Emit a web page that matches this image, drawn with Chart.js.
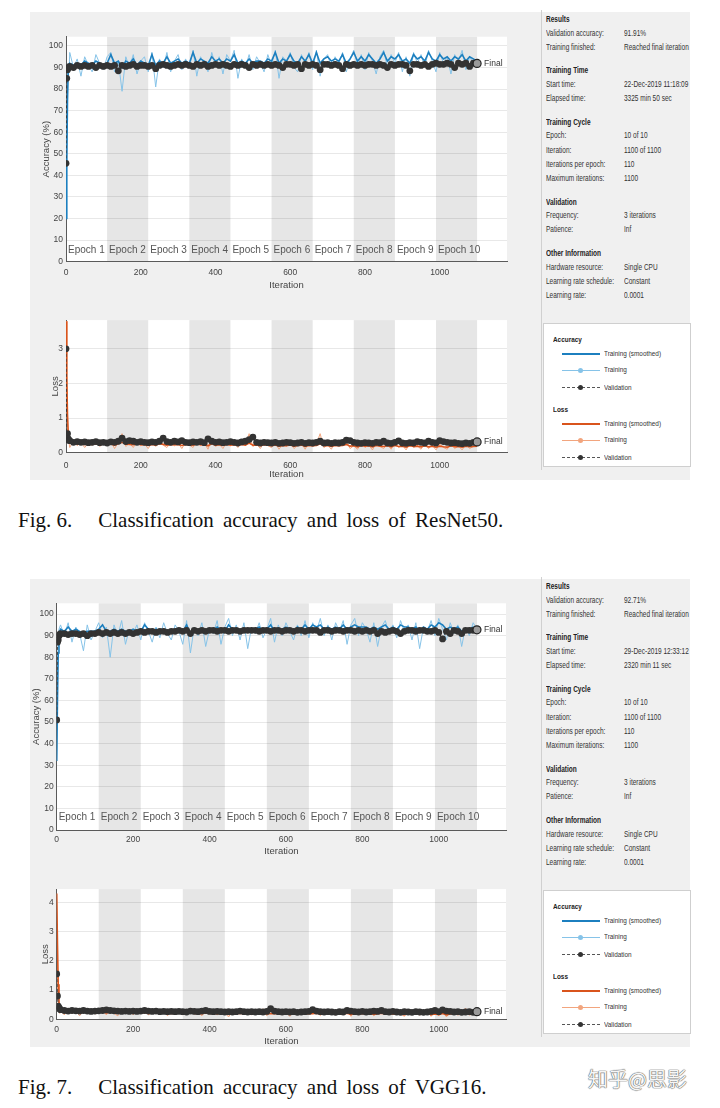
<!DOCTYPE html>
<html>
<head>
<meta charset="utf-8">
<script src="https://cdn.jsdelivr.net/npm/chart.js@4.4.1/dist/chart.umd.min.js"></script>
<style>
  body { margin: 0; width: 720px; height: 1108px; background: #fff; position: relative; overflow: hidden;
         font-family: "Liberation Sans", Arial, sans-serif; }
  .panel { position: absolute; background: #f0f0f0; }
  .side { position: absolute; border-left: 1px solid #d0d0d0; }
  canvas { position: absolute; }
  .row { position: absolute; left: 0; white-space: nowrap; font-size: 8.8px; color: #333;
         transform-origin: 0 50%; transform: scaleX(0.74); height: 12px; line-height: 12px; }
  .row.head { font-weight: bold; color: #222; }
  .legend { position: absolute; background: #fff; border: 1px solid #cfcfcf; }
  .legend .lbl { position: absolute; white-space: nowrap; font-size: 8px; color: #333; height: 10px; line-height: 10px;
                 transform-origin: 0 50%; transform: scaleX(0.8); }
  .legend .lbl.head { font-weight: bold; color: #222; }
  .legend .ln { position: absolute; height: 0; }
  .legend .dot { position: absolute; width: 5px; height: 5px; border-radius: 50%; }
  .caption { position: absolute; left: 18px; font-family: "Liberation Serif", "Times New Roman", serif;
             font-size: 21px; color: #111; white-space: nowrap; line-height: 24px; }
  .caption span { margin-left: 26px; word-spacing: 4px; }
  .mark { position: absolute; left: 588px; top: 1064px; font-family: "Noto Sans CJK SC", sans-serif; font-size: 20px;
          color: #f6f6f6; text-shadow: 0 0 1px #666, 0 0 1px #666, 0 0 1px #666; }
</style>
</head>
<body>

<div class="panel" style="left:30px; top:12px; width:660px; height:468px;"></div>
<div class="panel" style="left:30px; top:579px; width:660px; height:468px;"></div>

<canvas id="accA" width="490" height="280" style="left:30px; top:14px; width:490px; height:280px;"></canvas>
<canvas id="lossA" width="490" height="170" style="left:30px; top:312px; width:490px; height:170px;"></canvas>
<canvas id="accB" width="495" height="285" style="left:25px; top:580px; width:495px; height:285px;"></canvas>
<canvas id="lossB" width="495" height="166" style="left:25px; top:881px; width:495px; height:166px;"></canvas>

<div class="caption" style="top:508px;">Fig. 6.<span>Classification accuracy and loss of ResNet50.</span></div>
<div class="caption" style="top:1075px;">Fig. 7.<span>Classification accuracy and loss of VGG16.</span></div>
<div class="mark">知乎@思影</div>

<script>
const ITERS = [0, 2, 4, 6, 8,
  10, 20, 30, 40, 50, 60, 70, 80, 90, 100,
  110, 120, 130, 140, 150, 160, 170, 180, 190, 200,
  210, 220, 230, 240, 250, 260, 270, 280, 290, 300,
  310, 320, 330, 340, 350, 360, 370, 380, 390, 400,
  410, 420, 430, 440, 450, 460, 470, 480, 490, 500,
  510, 520, 530, 540, 550, 560, 570, 580, 590, 600,
  610, 620, 630, 640, 650, 660, 670, 680, 690, 700,
  710, 720, 730, 740, 750, 760, 770, 780, 790, 800,
  810, 820, 830, 840, 850, 860, 870, 880, 890, 900,
  910, 920, 930, 940, 950, 960, 970, 980, 990, 1000,
  1010, 1020, 1030, 1040, 1050, 1060, 1070, 1080, 1090, 1100];

const EPOCH_EDGES = [0, 110, 220, 330, 440, 550, 660, 770, 880, 990, 1100];
const EPOCH_LABELS = ['Epoch 1', 'Epoch 2', 'Epoch 3', 'Epoch 4', 'Epoch 5',
  'Epoch 6', 'Epoch 7', 'Epoch 8', 'Epoch 9', 'Epoch 10'];
const X_TICKS = [0, 200, 400, 600, 800, 1000];
const ACC_TICKS = [0, 10, 20, 30, 40, 50, 60, 70, 80, 90, 100];
const LOSS_TICKS_A = [0, 1, 2, 3];
const LOSS_TICKS_B = [0, 1, 2, 3, 4];

// ResNet50
const RES_ACC_TRAIN = [20, 55, 84, 92, 88,
  97, 90, 94, 86, 95, 91, 88, 96, 92, 89,
  95, 97, 88, 93, 79, 95, 90, 96, 87, 93,
  95, 88, 97, 81, 94, 90, 97, 88, 93, 96,
  89, 94, 90, 98, 86, 95, 92, 88, 97, 91,
  95, 87, 96, 93, 98, 85, 94, 90, 96, 89,
  95, 92, 88, 96, 91, 98, 85, 95, 93, 97,
  90, 88, 96, 92, 97, 89, 98, 86, 94, 96,
  90, 95, 92, 97, 88, 94, 98, 91, 96, 89,
  97, 93, 87, 95, 98, 90, 96, 92, 97, 88,
  95, 86, 97, 92, 96, 90, 98, 93, 88, 97,
  92, 95, 87, 96, 93, 98, 89, 95, 92, 94];
const RES_ACC_SMOOTH = [20, 45, 75, 88, 90,
  92, 91, 92, 91, 93, 92, 91, 93, 92, 91,
  92, 96, 92, 93, 90, 93, 92, 94, 91, 93,
  92, 91, 96, 91, 93, 92, 95, 92, 93, 94,
  92, 93, 92, 97, 92, 94, 93, 92, 95, 93,
  94, 92, 94, 93, 96, 92, 93, 92, 94, 92,
  93, 93, 92, 94, 93, 97, 92, 94, 93, 96,
  93, 92, 95, 93, 96, 92, 97, 92, 94, 95,
  93, 94, 93, 96, 92, 94, 97, 93, 95, 93,
  96, 94, 92, 94, 97, 93, 95, 94, 96, 93,
  94, 92, 96, 94, 95, 93, 97, 94, 93, 96,
  94, 95, 93, 95, 94, 96, 93, 95, 94, 93];
const RES_ACC_VAL = [45.6, 85, 89, 90, 90,
  90.5, 90, 91, 90.5, 91, 90.5, 91, 90, 91, 90.5,
  91, 90.5, 91, 88.5, 91, 90.5, 91, 91.5, 90.5, 91,
  91, 90.5, 91, 89.5, 91, 91.5, 91, 90.5, 91, 91.5,
  91, 91.5, 91, 90.5, 91.5, 91, 91.5, 90.5, 91, 91.5,
  91, 91.5, 91, 90.5, 91.5, 91, 91.5, 91, 90, 91.5,
  91, 91.5, 91, 91.5, 91, 91.5, 91, 90, 91.5, 91.5,
  91, 91.5, 89.5, 91.5, 91, 91.5, 91, 89, 91.5, 91.5,
  91, 91.5, 91, 89.5, 91.5, 91, 91.5, 91, 91.5, 91,
  91.5, 91.5, 91, 91.5, 91, 90, 91.5, 91, 91.5, 91.5,
  91, 88.5, 91.5, 91.5, 91, 91.5, 90.5, 91.5, 92, 91.5,
  91.5, 92, 91.5, 90, 92, 91.5, 92, 90.5, 92, 91.91];
const RES_LOSS_TRAIN = [3.8, 1.5, 0.7, 0.45, 0.3,
  0.15, 0.35, 0.2, 0.3, 0.15, 0.28, 0.22, 0.35, 0.18, 0.26,
  0.2, 0.32, 0.12, 0.3, 0.55, 0.18, 0.27, 0.15, 0.33, 0.2,
  0.25, 0.12, 0.3, 0.18, 0.4, 0.22, 0.15, 0.3, 0.2, 0.28,
  0.12, 0.3, 0.22, 0.15, 0.35, 0.2, 0.28, 0.1, 0.4, 0.18,
  0.25, 0.12, 0.3, 0.2, 0.28, 0.15, 0.32, 0.2, 0.55, 0.18,
  0.25, 0.12, 0.3, 0.2, 0.15, 0.28, 0.1, 0.25, 0.18, 0.3,
  0.12, 0.22, 0.28, 0.1, 0.3, 0.18, 0.25, 0.55, 0.15, 0.22,
  0.1, 0.3, 0.18, 0.25, 0.35, 0.12, 0.2, 0.1, 0.28, 0.15,
  0.22, 0.08, 0.3, 0.18, 0.12, 0.25, 0.1, 0.3, 0.15, 0.22,
  0.08, 0.28, 0.15, 0.2, 0.1, 0.3, 0.12, 0.22, 0.08, 0.25,
  0.15, 0.1, 0.28, 0.12, 0.2, 0.08, 0.25, 0.12, 0.18, 0.2];
const RES_LOSS_SMOOTH = [3.8, 2.2, 1.1, 0.6, 0.4,
  0.28, 0.26, 0.25, 0.26, 0.24, 0.25, 0.24, 0.26, 0.24, 0.25,
  0.24, 0.25, 0.22, 0.26, 0.3, 0.25, 0.24, 0.23, 0.25, 0.23,
  0.24, 0.21, 0.24, 0.22, 0.26, 0.24, 0.22, 0.24, 0.23, 0.24,
  0.21, 0.24, 0.23, 0.22, 0.25, 0.23, 0.24, 0.2, 0.26, 0.22,
  0.23, 0.21, 0.24, 0.22, 0.23, 0.21, 0.24, 0.22, 0.28, 0.22,
  0.22, 0.2, 0.23, 0.22, 0.2, 0.22, 0.19, 0.21, 0.2, 0.22,
  0.19, 0.21, 0.22, 0.18, 0.21, 0.2, 0.21, 0.26, 0.2, 0.21,
  0.18, 0.21, 0.2, 0.21, 0.24, 0.19, 0.2, 0.17, 0.21, 0.19,
  0.2, 0.17, 0.21, 0.19, 0.18, 0.2, 0.17, 0.21, 0.18, 0.19,
  0.16, 0.2, 0.18, 0.19, 0.17, 0.2, 0.17, 0.19, 0.16, 0.19,
  0.17, 0.16, 0.2, 0.17, 0.18, 0.16, 0.19, 0.17, 0.18, 0.19];
const RES_LOSS_VAL = [3.0, 0.45, 0.55, 0.4, 0.35,
  0.35, 0.3, 0.32, 0.3, 0.31, 0.29, 0.3, 0.32, 0.29, 0.3,
  0.28, 0.31, 0.3, 0.33, 0.42, 0.32, 0.35, 0.33, 0.3, 0.32,
  0.3, 0.29, 0.31, 0.3, 0.33, 0.42, 0.32, 0.3, 0.33, 0.31,
  0.35, 0.3, 0.29, 0.31, 0.3, 0.32, 0.29, 0.4, 0.33, 0.3,
  0.31, 0.29, 0.3, 0.32, 0.3, 0.28, 0.31, 0.33, 0.38, 0.45,
  0.3, 0.28, 0.3, 0.29, 0.28, 0.3, 0.27, 0.28, 0.3, 0.29,
  0.27, 0.28, 0.3, 0.27, 0.29, 0.28, 0.3, 0.33, 0.28, 0.29,
  0.27, 0.29, 0.28, 0.3, 0.36, 0.35, 0.3, 0.28, 0.27, 0.29,
  0.28, 0.27, 0.3, 0.29, 0.33, 0.28, 0.27, 0.3, 0.34, 0.28,
  0.27, 0.29, 0.28, 0.32, 0.3, 0.28, 0.33, 0.3, 0.28, 0.35,
  0.32, 0.3, 0.28, 0.29, 0.27, 0.26, 0.28, 0.27, 0.3, 0.31];

// VGG16
const VGG_ACC_TRAIN = [32, 70, 90, 93, 94,
  95, 90, 96, 87, 94, 91, 83, 95, 88, 92,
  96, 89, 94, 80, 95, 90, 97, 86, 93, 91,
  95, 88, 96, 92, 87, 94, 89, 96, 91, 88,
  95, 92, 86, 97, 82, 94, 90, 96, 85, 93,
  91, 97, 86, 94, 98, 90, 95, 88, 96, 84,
  94, 91, 96, 89, 93, 98, 87, 95, 90, 96,
  92, 88, 95, 90, 97, 89, 96, 92, 98, 90,
  95, 88, 96, 92, 97, 86, 95, 98, 90, 96,
  93, 87, 96, 85, 94, 97, 91, 95, 89, 97,
  92, 95, 88, 96, 84, 94, 92, 97, 90, 98,
  93, 88, 96, 91, 95, 85, 94, 90, 96, 93];
const VGG_ACC_SMOOTH = [32, 60, 82, 90, 92,
  93, 92, 94, 92, 93, 92, 91, 92, 92, 92,
  93, 95, 92, 92, 93, 92, 93, 92, 92, 93,
  92, 92, 95, 93, 92, 93, 92, 93, 92, 92,
  93, 93, 92, 95, 91, 93, 92, 93, 92, 93,
  92, 94, 92, 92, 95, 93, 93, 92, 93, 92,
  93, 93, 94, 92, 93, 95, 92, 93, 93, 94,
  93, 92, 94, 93, 95, 93, 95, 94, 95, 93,
  94, 93, 94, 93, 95, 93, 94, 95, 94, 94,
  94, 93, 94, 93, 94, 95, 93, 94, 93, 95,
  94, 94, 93, 94, 92, 94, 93, 95, 94, 96,
  95, 93, 94, 93, 94, 92, 93, 93, 94, 93];
const VGG_ACC_VAL = [51, 87, 88, 90, 90.5,
  91, 91, 90.5, 91, 91, 90.5, 91, 90, 91, 91,
  91.5, 91, 91.5, 91, 91.5, 91, 91.5, 91, 91.5, 91,
  91.5, 92, 91.5, 92, 92, 91.5, 92, 92, 91.5, 92,
  92, 92.5, 92, 92.5, 91, 92.5, 92, 92.5, 92, 92.5,
  92.5, 92, 92.5, 92.5, 92, 92.5, 92.5, 92, 92.5, 92.5,
  92.5, 92.5, 92, 92.5, 92.5, 92, 92.5, 92.5, 92, 92.5,
  92.5, 92, 92.5, 92.5, 92, 92.5, 92.5, 92.5, 91.5, 92.5,
  92.5, 92, 92.5, 92.5, 92, 92.5, 92.5, 92, 92.5, 92,
  92.5, 92, 92.5, 91, 92, 91.5, 92, 92.5, 92, 91,
  92, 92.5, 92.5, 92, 92.5, 92.5, 92, 92, 92.5, 91.5,
  88.5, 92, 91, 92.5, 92, 91, 92.5, 92.5, 92.5, 92.71];
const VGG_LOSS_TRAIN = [4.3, 1.8, 0.6, 0.35, 0.2,
  0.3, 0.15, 0.35, 0.2, 0.28, 0.12, 0.3, 0.22, 0.35, 0.18,
  0.25, 0.32, 0.15, 0.38, 0.2, 0.12, 0.3, 0.22, 0.36, 0.15,
  0.28, 0.2, 0.33, 0.15, 0.25, 0.35, 0.18, 0.3, 0.12, 0.26,
  0.2, 0.33, 0.15, 0.28, 0.38, 0.18, 0.25, 0.12, 0.35, 0.2,
  0.28, 0.15, 0.32, 0.22, 0.08, 0.3, 0.18, 0.35, 0.2, 0.27,
  0.15, 0.32, 0.2, 0.36, 0.12, 0.28, 0.2, 0.33, 0.15, 0.25,
  0.1, 0.3, 0.2, 0.35, 0.15, 0.27, 0.2, 0.33, 0.12, 0.25,
  0.2, 0.3, 0.15, 0.28, 0.18, 0.35, 0.1, 0.27, 0.15, 0.3,
  0.2, 0.33, 0.12, 0.25, 0.35, 0.18, 0.28, 0.15, 0.3, 0.2,
  0.1, 0.28, 0.2, 0.33, 0.15, 0.25, 0.3, 0.1, 0.28, 0.12,
  0.35, 0.08, 0.25, 0.3, 0.15, 0.22, 0.38, 0.15, 0.25, 0.2];
const VGG_LOSS_SMOOTH = [4.3, 2.6, 1.2, 0.6, 0.35,
  0.28, 0.25, 0.26, 0.24, 0.25, 0.23, 0.24, 0.24, 0.25, 0.23,
  0.23, 0.25, 0.22, 0.25, 0.23, 0.21, 0.23, 0.22, 0.24, 0.21,
  0.22, 0.21, 0.23, 0.2, 0.22, 0.23, 0.21, 0.22, 0.19, 0.21,
  0.2, 0.22, 0.2, 0.21, 0.23, 0.2, 0.21, 0.19, 0.22, 0.2,
  0.21, 0.19, 0.21, 0.2, 0.17, 0.2, 0.19, 0.21, 0.2, 0.2,
  0.19, 0.21, 0.19, 0.22, 0.18, 0.2, 0.19, 0.21, 0.18, 0.2,
  0.17, 0.2, 0.19, 0.21, 0.18, 0.2, 0.19, 0.21, 0.18, 0.19,
  0.19, 0.2, 0.18, 0.2, 0.18, 0.21, 0.17, 0.19, 0.18, 0.2,
  0.19, 0.2, 0.17, 0.19, 0.21, 0.18, 0.2, 0.18, 0.19, 0.18,
  0.16, 0.19, 0.18, 0.2, 0.17, 0.19, 0.2, 0.16, 0.18, 0.16,
  0.2, 0.15, 0.18, 0.19, 0.17, 0.18, 0.21, 0.17, 0.18, 0.18];
const VGG_LOSS_VAL = [1.55, 0.8, 0.45, 0.4, 0.35,
  0.33, 0.3, 0.28, 0.3, 0.29, 0.28, 0.3, 0.28, 0.27, 0.28,
  0.29, 0.3, 0.32, 0.3, 0.29, 0.28, 0.27, 0.28, 0.27, 0.28,
  0.27, 0.28, 0.3, 0.28, 0.27, 0.28, 0.26, 0.27, 0.26, 0.27,
  0.26, 0.27, 0.26, 0.25, 0.28, 0.27, 0.26, 0.28, 0.3, 0.27,
  0.26, 0.27, 0.26, 0.25, 0.26, 0.25, 0.26, 0.28, 0.26, 0.25,
  0.26, 0.25, 0.26, 0.25, 0.27, 0.36, 0.28, 0.26, 0.25, 0.26,
  0.25, 0.26, 0.24, 0.25, 0.26, 0.27, 0.33, 0.28, 0.26, 0.25,
  0.26, 0.25, 0.24, 0.26, 0.25, 0.3, 0.28, 0.26, 0.25, 0.27,
  0.25, 0.26, 0.28, 0.27, 0.3, 0.26, 0.25, 0.27, 0.25, 0.24,
  0.26, 0.25, 0.24, 0.26, 0.25, 0.24, 0.25, 0.27, 0.3, 0.26,
  0.32, 0.28, 0.27, 0.25, 0.26, 0.24, 0.25, 0.26, 0.24, 0.26];

// side panel text
const RES_INFO = [
  ['Results', [['Validation accuracy:', '91.91%'], ['Training finished:', 'Reached final iteration']]],
  ['Training Time', [['Start time:', '22-Dec-2019 11:18:09'], ['Elapsed time:', '3325 min 50 sec']]],
  ['Training Cycle', [['Epoch:', '10 of 10'], ['Iteration:', '1100 of 1100'], ['Iterations per epoch:', '110'], ['Maximum iterations:', '1100']]],
  ['Validation', [['Frequency:', '3 iterations'], ['Patience:', 'Inf']]],
  ['Other Information', [['Hardware resource:', 'Single CPU'], ['Learning rate schedule:', 'Constant'], ['Learning rate:', '0.0001']]],
];
const VGG_INFO = [
  ['Results', [['Validation accuracy:', '92.71%'], ['Training finished:', 'Reached final iteration']]],
  ['Training Time', [['Start time:', '29-Dec-2019 12:33:12'], ['Elapsed time:', '2320 min 11 sec']]],
  ['Training Cycle', [['Epoch:', '10 of 10'], ['Iteration:', '1100 of 1100'], ['Iterations per epoch:', '110'], ['Maximum iterations:', '1100']]],
  ['Validation', [['Frequency:', '3 iterations'], ['Patience:', 'Inf']]],
  ['Other Information', [['Hardware resource:', 'Single CPU'], ['Learning rate schedule:', 'Constant'], ['Learning rate:', '0.0001']]],
];

const C_ACC_SMOOTH = '#1c7fbf';
const C_ACC_TRAIN = '#86c3e8';
const C_LOSS_SMOOTH = '#d9541c';
const C_LOSS_TRAIN = '#f2a57e';

Chart.defaults.font.family = '"Liberation Sans", Arial, sans-serif';

// white plot area, grey bands on even epochs, epoch names along the bottom
const epochPlugin = {
  id: 'epochs',
  beforeDraw(chart, args, opts) {
    const { ctx, chartArea: a, scales: { x } } = chart;
    ctx.save();
    ctx.fillStyle = '#ffffff';
    ctx.fillRect(a.left, a.top, a.right - a.left, a.bottom - a.top);
    ctx.fillStyle = '#e6e6e6';
    for (let i = 1; i < EPOCH_EDGES.length - 1; i += 2) {
      const x0 = x.getPixelForValue(EPOCH_EDGES[i]);
      const x1 = x.getPixelForValue(EPOCH_EDGES[i + 1]);
      ctx.fillRect(x0, a.top, x1 - x0, a.bottom - a.top);
    }
    if (opts.labels) {
      ctx.fillStyle = '#555';
      ctx.font = '10px "Liberation Sans", Arial, sans-serif';
      ctx.textBaseline = 'middle';
      EPOCH_LABELS.forEach((t, i) => {
        ctx.fillText(t, x.getPixelForValue(EPOCH_EDGES[i]) + 2, a.bottom - opts.labelOffset);
      });
    }
    ctx.restore();
  },
  afterDatasetsDraw(chart) {
    const el = chart.getDatasetMeta(0).data[0];
    if (!el) return;
    const { ctx } = chart;
    ctx.save();
    ctx.fillStyle = '#333';
    ctx.font = '8.5px "Liberation Sans", Arial, sans-serif';
    ctx.textBaseline = 'middle';
    ctx.fillText('Final', el.x + 7, el.y);
    ctx.restore();
  }
};

function makePlot(id, o) {
  const pts = arr => ITERS.map((x, i) => ({ x, y: arr[i] }));
  const last = ITERS.length - 1;
  return new Chart(document.getElementById(id), {
    type: 'line',
    data: {
      datasets: [
        { label: 'Final', data: [{ x: ITERS[last], y: o.val[last] }], showLine: false, order: 0,
          pointRadius: 4, pointBackgroundColor: '#9a9a9a', pointBorderColor: '#222', pointBorderWidth: 1.2 },
        { label: 'Validation', data: pts(o.val), order: 1, borderColor: '#3a3a3a', borderWidth: 1,
          borderDash: [3, 2], pointRadius: 3.4, pointBackgroundColor: '#333', pointBorderWidth: 0 },
        { label: 'Training (smoothed)', data: pts(o.smooth), order: 2, borderColor: o.cSmooth,
          borderWidth: 1.6, pointRadius: 0 },
        { label: 'Training', data: pts(o.train), order: 3, borderColor: o.cTrain,
          borderWidth: 1, pointRadius: 0 },
      ]
    },
    options: {
      responsive: false,
      animation: false,
      events: [],
      layout: { padding: { left: 0, right: o.padR, top: o.padT, bottom: 0 } },
      plugins: {
        legend: { display: false },
        tooltip: { enabled: false },
        epochs: { labels: o.epochLabels, labelOffset: o.labelOffset },
      },
      scales: {
        x: {
          type: 'linear', min: 0, max: o.xMax,
          afterBuildTicks: s => { s.ticks = X_TICKS.map(v => ({ value: v })); },
          afterFit: s => { s.height = o.xH; },
          grid: { display: false, drawTicks: false },
          border: { color: '#5a5a5a', width: 1 },
          ticks: { padding: o.xTickPad, color: '#444', font: { size: 8.5 }, maxRotation: 0, callback: v => String(v) },
          title: { display: true, text: 'Iteration', color: '#444', font: { size: 9.5 },
                   padding: { top: 0, bottom: o.xTitlePad } },
        },
        y: {
          min: 0, max: o.yMax,
          afterBuildTicks: s => { s.ticks = o.yTicks.map(v => ({ value: v })); },
          afterFit: s => { s.width = o.yW; },
          grid: { color: 'rgba(0,0,0,0.09)', drawTicks: false },
          border: { color: '#5a5a5a', width: 1 },
          ticks: { padding: 3, color: '#444', font: { size: 8.5 }, callback: v => String(v) },
          title: { display: true, text: o.yTitle, color: '#444', font: { size: 9.5 },
                   padding: { top: o.yTitlePad, bottom: 0 } },
        }
      }
    },
    plugins: [epochPlugin]
  });
}

makePlot('accA', { train: RES_ACC_TRAIN, smooth: RES_ACC_SMOOTH, val: RES_ACC_VAL,
  cSmooth: C_ACC_SMOOTH, cTrain: C_ACC_TRAIN, yTicks: ACC_TICKS, yMax: 104.3, xMax: 1180,
  yTitle: 'Accuracy (%)', padR: 13, padT: 22.7, xH: 32.3, yW: 36, xTickPad: 6, xTitlePad: 3.3, yTitlePad: 10.3,
  epochLabels: true, labelOffset: 11 });
makePlot('lossA', { train: RES_LOSS_TRAIN, smooth: RES_LOSS_SMOOTH, val: RES_LOSS_VAL,
  cSmooth: C_LOSS_SMOOTH, cTrain: C_LOSS_TRAIN, yTicks: LOSS_TICKS_A, yMax: 3.83, xMax: 1180,
  yTitle: 'Loss', padR: 13, padT: 4.7, xH: 29.3, yW: 36, xTickPad: 8, xTitlePad: 2.3, yTitlePad: 19.3,
  epochLabels: false, labelOffset: 0 });
makePlot('accB', { train: VGG_ACC_TRAIN, smooth: VGG_ACC_SMOOTH, val: VGG_ACC_VAL,
  cSmooth: C_ACC_SMOOTH, cTrain: C_ACC_TRAIN, yTicks: ACC_TICKS, yMax: 105, xMax: 1176,
  yTitle: 'Accuracy (%)', padR: 14, padT: 23.3, xH: 35, yW: 31.7, xTickPad: 5, xTitlePad: 7.6, yTitlePad: 6,
  epochLabels: true, labelOffset: 12.3 });
makePlot('lossB', { train: VGG_LOSS_TRAIN, smooth: VGG_LOSS_SMOOTH, val: VGG_LOSS_VAL,
  cSmooth: C_LOSS_SMOOTH, cTrain: C_LOSS_TRAIN, yTicks: LOSS_TICKS_B, yMax: 4.45, xMax: 1176,
  yTitle: 'Loss', padR: 14, padT: 4, xH: 27.7, yW: 31.7, xTickPad: 5, xTitlePad: 0.3, yTitlePad: 14.3,
  epochLabels: false, labelOffset: 0 });

// side panel: info text and legend
function el(cls, css, text) {
  const d = document.createElement('div');
  d.className = cls;
  Object.assign(d.style, css);
  if (text !== undefined) d.textContent = text;
  document.body.appendChild(d);
  return d;
}

function sidePanel(top, info) {
  el('side', { left: '541px', top: (top - 2) + 'px', width: '0px', height: '460px' });
  let y = top + 1;
  info.forEach(([head, rows], s) => {
    if (s > 0) y += 9.5;
    el('row head', { left: '546px', top: y + 'px' }, head);
    y += 13.5;
    rows.forEach(([k, v]) => {
      el('row', { left: '546px', top: y + 'px' }, k);
      el('row', { left: '624px', top: y + 'px' }, v);
      y += 14.2;
    });
  });

  const box = el('legend', { left: '543px', top: (top + 311) + 'px', width: '146px', height: '142px' });
  const add = (cls, css, text) => {
    const d = document.createElement('div');
    d.className = cls;
    Object.assign(d.style, css);
    if (text !== undefined) d.textContent = text;
    box.appendChild(d);
  };
  const groups = [
    ['Accuracy', 11, [C_ACC_SMOOTH, C_ACC_TRAIN]],
    ['Loss', 81, [C_LOSS_SMOOTH, C_LOSS_TRAIN]],
  ];
  groups.forEach(([name, gy, [cs, ct]]) => {
    add('lbl head', { left: '9px', top: gy + 'px' }, name);
    const rowsY = [gy + 14, gy + 30, gy + 48];
    add('ln', { left: '18px', top: (rowsY[0] + 4) + 'px', width: '38px', borderTop: '2px solid ' + cs });
    add('lbl', { left: '60px', top: rowsY[0] + 'px' }, 'Training (smoothed)');
    add('ln', { left: '18px', top: (rowsY[1] + 5) + 'px', width: '38px', borderTop: '1px solid ' + ct });
    add('dot', { left: '34px', top: (rowsY[1] + 3) + 'px', background: ct });
    add('lbl', { left: '60px', top: rowsY[1] + 'px' }, 'Training');
    add('ln', { left: '18px', top: (rowsY[2] + 4) + 'px', width: '38px', borderTop: '1px dashed #555' });
    add('dot', { left: '34px', top: (rowsY[2] + 2) + 'px', background: '#333' });
    add('lbl', { left: '60px', top: rowsY[2] + 'px' }, 'Validation');
  });
}

sidePanel(12, RES_INFO);
sidePanel(579, VGG_INFO);
</script>
</body>
</html>
